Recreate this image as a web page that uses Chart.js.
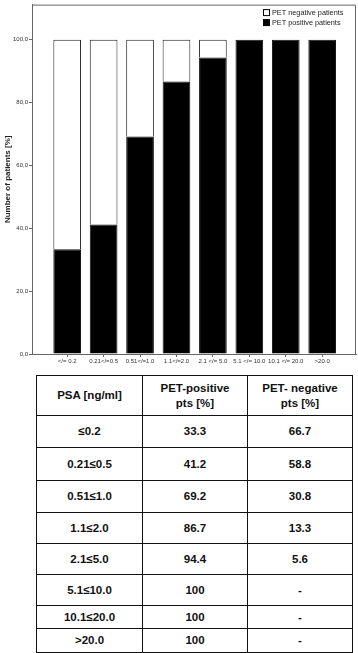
<!DOCTYPE html>
<html>
<head>
<meta charset="utf-8">
<script src="https://cdn.jsdelivr.net/npm/chart.js@4/dist/chart.umd.min.js"></script>
<style>
  html, body { margin: 0; padding: 0; background: #fff; }
  body { width: 358px; height: 653px; position: relative; overflow: hidden; }
  #wrap { position: absolute; left: 0; top: 0; width: 358px; height: 370px; }
  #tbl { position: absolute; left: 36px; top: 375px; width: 316px; border-collapse: collapse; table-layout: fixed;
         font-family: "Liberation Sans", Arial, sans-serif; font-weight: bold; font-size: 11.5px; color: #111; }
  #tbl td, #tbl th { border: 1.5px solid #111; text-align: center; vertical-align: middle; padding: 0; line-height: 15px; font-weight: bold; }
</style>
</head>
<body>
<div id="wrap"><canvas id="c" width="358" height="370"></canvas></div>
<table id="tbl">
  <colgroup><col style="width:106px"><col style="width:105px"><col style="width:105px"></colgroup>
  <thead id="thead"></thead>
  <tbody id="tbody"></tbody>
</table>
<script>
// ---- data ----
const categories = ['</= 0.2', '0.21</=0.5', '0.51</=1.0', '1.1</=2.0', '2.1 </= 5.0', '5.1 </= 10.0', '10.1 </= 20.0', '>20.0'];
const petPositive = [33.3, 41.2, 69.2, 86.7, 94.4, 100, 100, 100];
const petNegative = [66.7, 58.8, 30.8, 13.3, 5.6, 0, 0, 0];
const yTicks = [0, 20, 40, 60, 80, 100];
const seriesLabels = ['PET positive patients', 'PET negative patients'];
const yTitle = 'Number of patients [%]';
const tableRanges = ['≤0.2', '0.21≤0.5', '0.51≤1.0', '1.1≤2.0', '2.1≤5.0', '5.1≤10.0', '10.1≤20.0', '>20.0'];
const tableHeaders = [['PSA [ng/ml]'], ['PET-positive', 'pts [%]'], ['PET- negative', 'pts [%]']];

// ---- table ----
const rowHeights = [40, 32, 33, 32, 31, 31, 31, 23, 24];
const fmt = v => v === 100 ? '100' : (v === 0 ? '-' : v.toFixed(1));
const thead = document.getElementById('thead');
const htr = document.createElement('tr');
htr.style.height = rowHeights[0] + 'px';
tableHeaders.forEach(lines => {
  const th = document.createElement('td');
  th.innerHTML = lines.join('<br>');
  htr.appendChild(th);
});
thead.appendChild(htr);
const tbody = document.getElementById('tbody');
tableRanges.forEach((r, i) => {
  const tr = document.createElement('tr');
  tr.style.height = rowHeights[i + 1] + 'px';
  [r, fmt(petPositive[i]), fmt(petNegative[i])].forEach(t => {
    const td = document.createElement('td');
    td.textContent = t;
    tr.appendChild(td);
  });
  tbody.appendChild(tr);
});

// ---- chart ----
const FONT = '"Liberation Sans", Arial, sans-serif';

const framePlugin = {
  id: 'frame',
  beforeDatasetsDraw(chart) {
    const { ctx, chartArea: a } = chart;
    ctx.save();
    ctx.strokeStyle = '#666';
    ctx.lineWidth = 1;
    ctx.beginPath();
    ctx.moveTo(a.left, a.top + 0.5);
    ctx.lineTo(a.right - 0.5, a.top + 0.5);
    ctx.lineTo(a.right - 0.5, a.bottom);
    ctx.stroke();
    ctx.restore();
  }
};

const legendPlugin = {
  id: 'customLegend',
  afterDraw(chart) {
    const { ctx, chartArea: a } = chart;
    const items = chart.data.datasets.slice().reverse();
    ctx.save();
    ctx.font = '7.3px ' + FONT;
    ctx.textBaseline = 'middle';
    ctx.textAlign = 'left';
    const x0 = a.right - 92.5;
    items.forEach((ds, i) => {
      const y = a.top + 5 + i * 10;
      ctx.fillStyle = ds.backgroundColor;
      ctx.fillRect(x0, y, 6, 6);
      ctx.strokeStyle = '#000';
      ctx.lineWidth = 1;
      ctx.strokeRect(x0, y, 6, 6);
      ctx.fillStyle = '#222';
      ctx.fillText(ds.label, x0 + 8.5, y + 3.3);
    });
    ctx.restore();
  }
};

new Chart(document.getElementById('c'), {
  type: 'bar',
  data: {
    datasets: [
      {
        label: seriesLabels[0],
        data: petPositive.map((v, i) => ({ x: i, y: v })),
        backgroundColor: '#000000',
        borderColor: '#111111',
        borderWidth: 1,
        borderSkipped: 'start',
        barPercentage: 0.76,
        categoryPercentage: 1
      },
      {
        label: seriesLabels[1],
        data: petNegative.map((v, i) => ({ x: i, y: v })),
        backgroundColor: '#ffffff',
        borderColor: '#222222',
        borderWidth: 1,
        borderSkipped: 'start',
        barPercentage: 0.76,
        categoryPercentage: 1
      }
    ]
  },
  options: {
    responsive: false,
    animation: false,
    layout: { padding: { top: 1, right: 2, left: 0, bottom: 0 } },
    plugins: { legend: { display: false }, tooltip: { enabled: false } },
    scales: {
      x: {
        type: 'linear',
        stacked: true,
        offset: false,
        min: -0.966,
        max: 7.928,
        border: { display: true, color: '#666', width: 1 },
        grid: { offset: false, drawOnChartArea: false, drawTicks: true, tickLength: 3, color: '#666' },
        ticks: {
          autoSkip: false,
          maxRotation: 0,
          padding: 1,
          color: '#333',
          font: { family: FONT, size: 6 },
          callback: v => categories[v]
        },
        afterBuildTicks: s => { s.ticks = categories.map((c, i) => ({ value: i })); },
        afterFit: s => { s.height = 16; }
      },
      y: {
        stacked: true,
        min: 0,
        max: 111.2,
        border: { display: true, color: '#666', width: 1 },
        grid: { drawOnChartArea: false, drawTicks: true, tickLength: 3, color: '#666' },
        ticks: {
          padding: 1,
          color: '#333',
          font: { family: FONT, size: 6 },
          callback: v => v.toFixed(1).replace('.', ',')
        },
        afterBuildTicks: s => { s.ticks = yTicks.map(v => ({ value: v })); },
        afterFit: s => { s.width = 32; },
        title: {
          display: true,
          text: yTitle,
          color: '#222',
          padding: { top: 3, bottom: 2 },
          font: { family: FONT, size: 8, weight: 'bold' }
        }
      }
    }
  },
  plugins: [framePlugin, legendPlugin]
});
</script>
</body>
</html>
